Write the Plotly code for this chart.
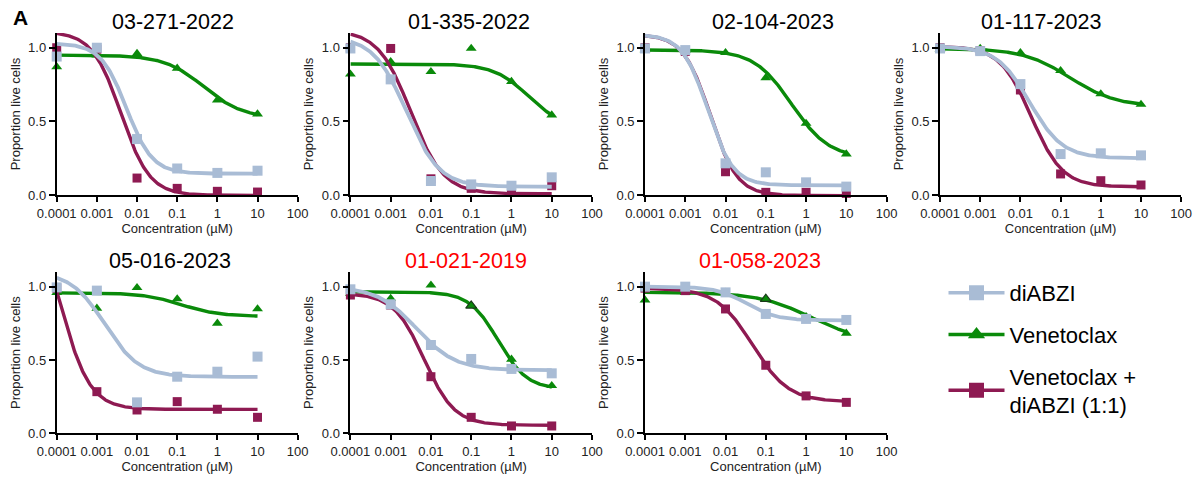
import numpy as np
import plotly.graph_objects as go

# ---------------- data ----------------
conc = [0.0001, 0.001, 0.01, 0.1, 1, 10]
tick_vals = [0.0001, 0.001, 0.01, 0.1, 1, 10, 100]
tick_text = ["0.0001", "0.001", "0.01", "0.1", "1", "10", "100"]
y_tick_vals = [0.0, 0.5, 1.0]
y_tick_text = ["0.0", "0.5", "1.0"]

samples = ["03-271-2022", "01-335-2022", "02-104-2023", "01-117-2023",
           "05-016-2023", "01-021-2019", "01-058-2023"]
title_colors = ["black", "black", "black", "black", "black", "red", "red"]

series_names = ["diABZI", "Venetoclax", "Venetoclax +<br>diABZI (1:1)"]

# measured proportion of live cells (one list per patient sample)
diabzi_vals = [
    [0.94, 1.00, 0.38, 0.18, 0.15, 0.165],
    [0.995, 0.785, 0.095, 0.072, 0.063, 0.12],
    [0.995, 0.984, 0.215, 0.154, 0.086, 0.057],
    [0.995, 0.977, 0.753, 0.278, 0.283, 0.269],
    [0.995, 0.973, 0.211, 0.386, 0.42, 0.523],
    [0.982, 0.88, 0.602, 0.507, 0.439, 0.409],
    [1.0, 1.0, 0.961, 0.814, 0.78, 0.773],
]
venetoclax_vals = [
    [0.87, 0.95, 0.96, 0.86, 0.645, 0.55],
    [0.82, 0.905, 0.837, 0.995, 0.77, 0.543],
    [0.985, 0.98, 0.966, 0.796, 0.486, 0.278],
    [0.99, 0.995, 0.966, 0.844, 0.686, 0.615],
    [0.96, 0.852, 0.993, 0.916, 0.75, 0.848],
    [0.955, 0.92, 1.01, 0.87, 0.505, 0.325],
    [0.909, 0.96, 0.96, 0.916, 0.795, 0.682],
]
combo_vals = [
    [1.00, 0.99, 0.115, 0.045, 0.025, 0.02],
    [1.00, 0.995, 0.11, 0.045, 0.04, 0.063],
    [1.00, 0.975, 0.158, 0.018, 0.018, 0.011],
    [1.00, 0.98, 0.713, 0.143, 0.097, 0.068],
    [0.99, 0.284, 0.159, 0.216, 0.164, 0.109],
    [0.943, 0.875, 0.386, 0.109, 0.05, 0.05],
    [0.99, 0.973, 0.848, 0.464, 0.255, 0.211],
]

# fitted dose-response curves: [top, bottom, logEC50, hill slope]
diabzi_fit = [
    [1.03, 0.145, -2.26, 1.35],
    [1.075, 0.056, -2.61, 1.06],
    [1.09, 0.066, -2.44, 1.38],
    [1.01, 0.25, -1.77, 1.065],
    [1.10, 0.385, -2.80, 1.025],
    [1.0, 0.43, -2.36, 0.895],
    [1.0, 0.77, -1.48, 1.17],
]
venetoclax_fit = [
    [0.95, 0.52, -0.34, 0.88],
    [0.89, 0.45, 0.43, 1.0],
    [0.985, 0.25, -0.36, 0.935],
    [0.995, 0.60, -0.77, 0.75],
    [0.958, 0.797, -0.90, 0.92],
    [0.965, 0.30, -0.33, 1.21],
    [0.962, 0.62, 0.125, 0.655],
]
combo_fit = [
    [1.11, -0.003, -2.40, 1.21],
    [1.12, 0.008, -2.50, 1.07],
    [1.09, -0.004, -2.38, 1.30],
    [1.01, 0.055, -1.73, 1.12],
    [1.6, 0.163, -3.91, 1.18],
    [0.955, 0.055, -2.17, 1.15],
    [0.99, 0.215, -1.33, 0.975],
]

# ---------------- style / layout ----------------
W, H = 1193, 479
C_DIA = "#A9BCD5"
C_VEN = "#0A8A0A"
C_COMBO = "#8E1A52"
FONT = "'Liberation Sans', Arial, Helvetica, sans-serif"
TICK_SIZE = 13
AXTITLE_SIZE = 13

# panel plot areas in pixels: (left, right, top, bottom)
panels_px = [
    (56.7, 297.7, 33, 195), (350.4, 592.0, 33, 195), (645.0, 886.6, 33, 195), (940.0, 1181.2, 33, 195),
    (56.7, 297.7, 272, 433.3), (350.4, 592.0, 272, 433.3), (645.0, 886.6, 272, 433.3),
]
title_centers_px = [(172.5, 22), (468.5, 22), (772.5, 22), (1041, 22),
                    (170, 261), (466, 261), (760, 261)]


def logistic(x, p):
    top, bottom, logc, hill = p
    return bottom + (top - bottom) / (1 + 10 ** ((np.log10(x) - logc) * hill))


curve_x = np.logspace(-4, 1, 250)

fig = go.Figure()
layout_axes = {}
annotations = []

for i in range(7):
    k = "" if i == 0 else str(i + 1)
    xa, ya = "x" + k, "y" + k
    l, r, t, b = panels_px[i]
    layout_axes["xaxis" + k] = dict(
        domain=[l / W, r / W], anchor=ya, type="log", range=[-4, 2],
        tickvals=tick_vals, ticktext=tick_text, ticks="outside", ticklen=5, tickwidth=1.6,
        tickcolor="black", showline=True, linecolor="black", linewidth=1.8,
        showgrid=False, zeroline=False, tickfont=dict(size=TICK_SIZE, color="#222"),
        title=dict(text="Concentration (µM)", font=dict(size=AXTITLE_SIZE, color="#222"), standoff=4),
        automargin=False, fixedrange=True,
    )
    layout_axes["yaxis" + k] = dict(
        domain=[1 - b / H, 1 - t / H], anchor=xa, range=[0, 1.1],
        tickvals=y_tick_vals, ticktext=y_tick_text, ticks="outside", ticklen=6, tickwidth=1.6,
        tickcolor="black", showline=True, linecolor="black", linewidth=1.8,
        showgrid=False, zeroline=False, tickfont=dict(size=TICK_SIZE, color="#222"),
        title=dict(text="Proportion live cells", font=dict(size=AXTITLE_SIZE, color="#222"), standoff=5),
        automargin=False, fixedrange=True,
    )

    outline = ["rgba(0,0,0,0)"] * len(conc)
    if i >= 5:
        outline[3] = "#1a3a1a"

    # Venetoclax
    fig.add_trace(go.Scatter(x=curve_x, y=logistic(curve_x, venetoclax_fit[i]), mode="lines",
                             line=dict(color=C_VEN, width=3.4), xaxis=xa, yaxis=ya,
                             showlegend=False, hoverinfo="skip"))
    fig.add_trace(go.Scatter(x=conc, y=venetoclax_vals[i], mode="markers",
                             marker=dict(symbol="triangle-up", size=9.5, color=C_VEN,
                                         line=dict(color=outline, width=1.2)),
                             xaxis=xa, yaxis=ya, showlegend=False, cliponaxis=False))
    # Combination
    fig.add_trace(go.Scatter(x=curve_x, y=logistic(curve_x, combo_fit[i]), mode="lines",
                             line=dict(color=C_COMBO, width=3.4), xaxis=xa, yaxis=ya,
                             showlegend=False, hoverinfo="skip"))
    fig.add_trace(go.Scatter(x=conc, y=combo_vals[i], mode="markers",
                             marker=dict(symbol="square", size=9, color=C_COMBO),
                             xaxis=xa, yaxis=ya, showlegend=False, cliponaxis=False))
    # diABZI
    fig.add_trace(go.Scatter(x=curve_x, y=logistic(curve_x, diabzi_fit[i]), mode="lines",
                             line=dict(color=C_DIA, width=3.8), xaxis=xa, yaxis=ya,
                             showlegend=False, hoverinfo="skip"))
    fig.add_trace(go.Scatter(x=conc, y=diabzi_vals[i], mode="markers",
                             marker=dict(symbol="square", size=10, color=C_DIA),
                             xaxis=xa, yaxis=ya, showlegend=False, cliponaxis=False))

    cx, cy = title_centers_px[i]
    annotations.append(dict(text=samples[i], x=cx / W, y=1 - cy / H, xref="paper", yref="paper",
                            xanchor="center", yanchor="middle", showarrow=False,
                            font=dict(size=21.5, color=title_colors[i])))

annotations.append(dict(text="<b>A</b>", x=20 / W, y=1 - 17.5 / H, xref="paper", yref="paper",
                        xanchor="center", yanchor="middle", showarrow=False,
                        font=dict(size=21, color="black")))

# legend entries
for name, col, sym, sz in [(series_names[0], C_DIA, "square", 15),
                           (series_names[1], C_VEN, "triangle-up", 15),
                           (series_names[2], C_COMBO, "square", 15)]:
    fig.add_trace(go.Scatter(x=[None], y=[None], mode="lines+markers", name=name,
                             line=dict(color=col, width=3.5),
                             marker=dict(symbol=sym, size=sz, color=col),
                             legendgroup=name, showlegend=True))

fig.update_layout(
    width=W, height=H, margin=dict(l=0, r=0, t=0, b=0, autoexpand=False),
    paper_bgcolor="white", plot_bgcolor="white",
    font=dict(family=FONT, color="black"),
    annotations=annotations,
    showlegend=True,
    legend=dict(x=943.5 / W, y=1 - 272 / H, xanchor="left", yanchor="top",
                font=dict(size=22, color="black"), bgcolor="rgba(0,0,0,0)",
                tracegroupgap=10, itemwidth=56, traceorder="grouped"),
    **layout_axes,
)

fig.write_html("out.html", config={"displayModeBar": False},
               post_script="document.body.style.margin='0';document.body.style.overflow='hidden';")
